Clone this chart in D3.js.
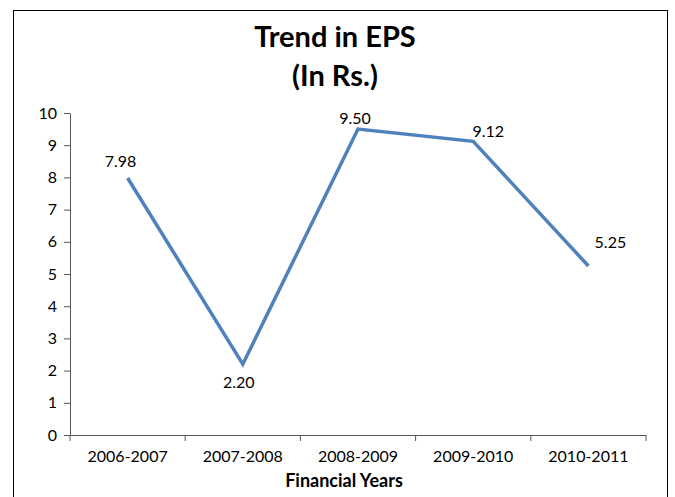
<!DOCTYPE html>
<html>
<head>
<meta charset="utf-8">
<script src="https://cdn.jsdelivr.net/npm/d3@7"></script>
<style>
  body { margin: 0; background: #fff; }
  text { font-family: Lato, "Open Sans", sans-serif; fill: #000; }
</style>
</head>
<body>
<div id="vis"></div>
<script>
const years = ['2006-2007', '2007-2008', '2008-2009', '2009-2010', '2010-2011']
const eps = [7.98, 2.20, 9.50, 9.12, 5.25]
const yTicks = [0, 1, 2, 3, 4, 5, 6, 7, 8, 9, 10]

const W = 675, H = 497
const margin = { top: 113, right: 29, bottom: 62, left: 70 }

const svg = d3.select('#vis')
    .append('svg')
    .attr('width', W)
    .attr('height', H)

// outer chart border (bottom edge runs off the picture)
svg.append('rect')
    .attr('x', 13.5)
    .attr('y', 10.5)
    .attr('width', 654)
    .attr('height', 500)
    .attr('fill', 'none')
    .attr('stroke', '#000')
    .attr('stroke-width', 1)

const xScale = d3.scaleBand()
    .domain(years)
    .range([margin.left, W - margin.right])
    .padding(0)

const yScale = d3.scaleLinear()
    .domain([0, 10])
    .range([H - margin.bottom, margin.top])

// title
svg.append('text')
    .attr('x', 335)
    .attr('y', 47)
    .attr('text-anchor', 'middle')
    .style('font-size', '29px')
    .style('font-weight', 'bold')
    .text('Trend in EPS')
svg.append('text')
    .attr('x', 335)
    .attr('y', 86)
    .attr('text-anchor', 'middle')
    .style('font-size', '29px')
    .style('font-weight', 'bold')
    .text('(In Rs.)')

// y axis
const yAxis = svg.append('g')
    .attr('transform', `translate(${margin.left},0)`)
    .call(d3.axisLeft(yScale).tickValues(yTicks).tickSize(6).tickSizeOuter(0).tickPadding(7))
yAxis.select('.domain').attr('stroke', '#555')
yAxis.selectAll('.tick line').attr('stroke', '#555')
yAxis.selectAll('.tick text')
    .style('font-size', '16px')
    .style('font-family', 'Lato, sans-serif')
    .attr('fill', '#000')

// x axis: labels centred in bands, tick marks on band edges
const xAxis = svg.append('g')
    .attr('transform', `translate(0,${yScale(0)})`)
    .call(d3.axisBottom(xScale).tickSize(0).tickPadding(16))
xAxis.select('.domain').attr('stroke', '#555')
xAxis.selectAll('.tick text')
    .style('font-size', '16px')
    .style('font-family', 'Lato, sans-serif')
    .attr('fill', '#000')

const edges = d3.range(years.length + 1).map(i => xScale.range()[0] + i * xScale.step())
xAxis.selectAll('.edge')
    .data(edges)
    .join('line')
    .attr('class', 'edge')
    .attr('x1', d => d).attr('x2', d => d)
    .attr('y1', 0).attr('y2', 6)
    .attr('stroke', '#555')

svg.append('text')
    .attr('x', 344)
    .attr('y', 487)
    .attr('text-anchor', 'middle')
    .style('font-size', '18px')
    .style('font-weight', 'bold')
    .text('Financial Years')

// line
const cx = (d, i) => xScale(years[i]) + xScale.bandwidth() / 2
const line = d3.line()
    .x(cx)
    .y(d => yScale(d))

svg.append('path')
    .datum(eps)
    .attr('d', line)
    .attr('fill', 'none')
    .attr('stroke', '#4F81BD')
    .attr('stroke-width', 3.5)
    .attr('stroke-linejoin', 'miter')

// data labels, placed like the spreadsheet did (offset from the point)
const labelOffset = [[-7, -11], [-4, 24], [-3, -5], [15, -4], [22, -18]]
svg.selectAll('.dlabel')
    .data(eps)
    .join('text')
    .attr('class', 'dlabel')
    .attr('x', (d, i) => cx(d, i) + labelOffset[i][0])
    .attr('y', (d, i) => yScale(d) + labelOffset[i][1])
    .attr('text-anchor', 'middle')
    .style('font-size', '16px')
    .text(d => d.toFixed(2))
</script>
</body>
</html>
